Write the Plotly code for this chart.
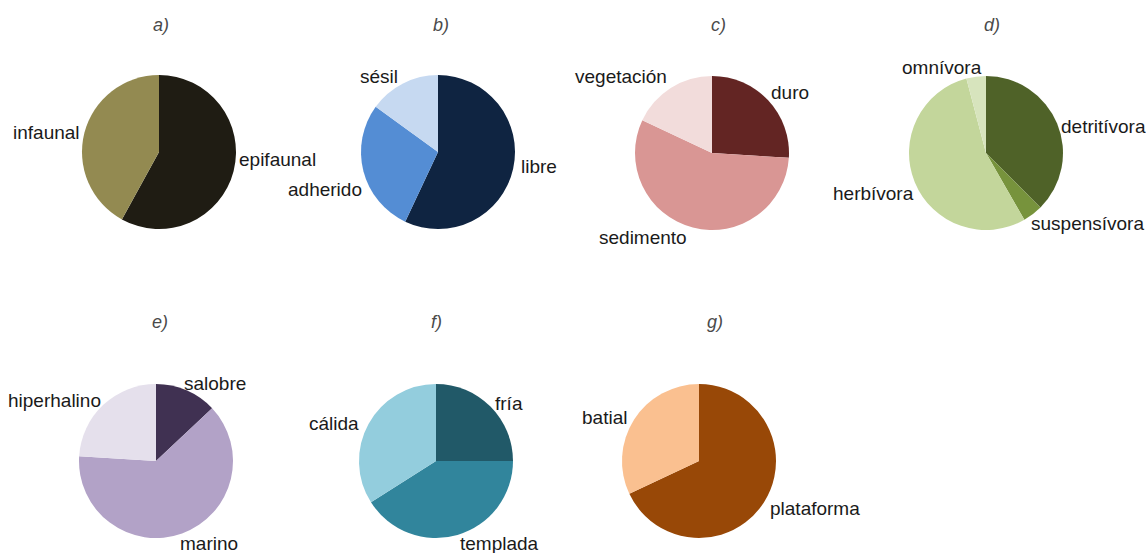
import plotly.graph_objects as go

# ---- data -------------------------------------------------------------
panel_titles = ["a)", "b)", "c)", "d)", "e)", "f)", "g)"]

a_labels = ["epifaunal", "infaunal"]
a_values = [58, 42]

b_labels = ["libre", "adherido", "sésil"]
b_values = [57, 28, 15]

c_labels = ["duro", "sedimento", "vegetación"]
c_values = [26, 56, 18]

d_labels = ["detritívora", "suspensívora", "herbívora", "omnívora"]
d_values = [37.5, 4.2, 54.2, 4.1]

e_labels = ["salobre", "marino", "hiperhalino"]
e_values = [13, 63, 24]

f_labels = ["fría", "templada", "cálida"]
f_values = [25, 41, 34]

g_labels = ["plataforma", "batial"]
g_values = [68, 32]

# ---- styling ------------------------------------------------------------
a_colors = ["#1f1c13", "#938a51"]
b_colors = ["#0f2441", "#548dd4", "#c6d9f1"]
c_colors = ["#632523", "#d99694", "#f2dcdb"]
d_colors = ["#4f6228", "#77933c", "#c3d69b", "#d7e4bd"]
e_colors = ["#403152", "#b2a2c7", "#e5e0ec"]
f_colors = ["#215968", "#31859c", "#93cddd"]
g_colors = ["#984807", "#fac090"]

W, H = 1146, 553
R = 77  # pie radius in px

# pie centres (px) and label anchor points (px) per panel
panels = [
    dict(labels=a_labels, values=a_values, colors=a_colors, c=(159, 152), t=(161, 25),
         pos=[(277, 160), (46, 133)]),
    dict(labels=b_labels, values=b_values, colors=b_colors, c=(438, 152), t=(441, 25),
         pos=[(539, 166), (325, 189), (379, 77)]),
    dict(labels=c_labels, values=c_values, colors=c_colors, c=(712, 153), t=(718, 25),
         pos=[(790, 92), (643, 237), (621, 77)]),
    dict(labels=d_labels, values=d_values, colors=d_colors, c=(986, 153), t=(992, 25),
         pos=[(1103, 126), (1087, 224), (873, 193), (942, 67)]),
    dict(labels=e_labels, values=e_values, colors=e_colors, c=(156, 461), t=(160, 322),
         pos=[(215, 383), (209, 543), (54, 400)]),
    dict(labels=f_labels, values=f_values, colors=f_colors, c=(436, 461), t=(436, 322),
         pos=[(509, 403), (499, 543), (334, 423)]),
    dict(labels=g_labels, values=g_values, colors=g_colors, c=(699, 461), t=(715, 322),
         pos=[(815, 508), (604, 417)]),
]

FONT = "Liberation Sans, Arial, sans-serif"

fig = go.Figure()
annotations = []

for title, p in zip(panel_titles, panels):
    cx, cy = p["c"]
    fig.add_trace(go.Pie(
        labels=p["labels"],
        values=p["values"],
        sort=False,
        direction="clockwise",
        rotation=0,
        textinfo="none",
        hoverinfo="label+value",
        marker=dict(colors=p["colors"], line=dict(width=0)),
        showlegend=False,
        domain=dict(x=[(cx - R) / W, (cx + R) / W],
                    y=[1 - (cy + R) / H, 1 - (cy - R) / H]),
    ))
    tx, ty = p["t"]
    annotations.append(dict(
        x=tx / W, y=1 - ty / H, xref="paper", yref="paper",
        text=f"<i>{title}</i>", showarrow=False,
        xanchor="center", yanchor="middle",
        font=dict(family=FONT, size=18, color="#4a4a4a"),
    ))
    for lab, (lx, ly) in zip(p["labels"], p["pos"]):
        annotations.append(dict(
            x=lx / W, y=1 - ly / H, xref="paper", yref="paper",
            text=lab, showarrow=False,
            xanchor="center", yanchor="middle",
            font=dict(family=FONT, size=19, color="#1a1a1a"),
        ))

fig.update_layout(
    width=W, height=H,
    margin=dict(l=0, r=0, t=0, b=0),
    paper_bgcolor="white",
    plot_bgcolor="white",
    annotations=annotations,
)

fig.write_html("out.html")
